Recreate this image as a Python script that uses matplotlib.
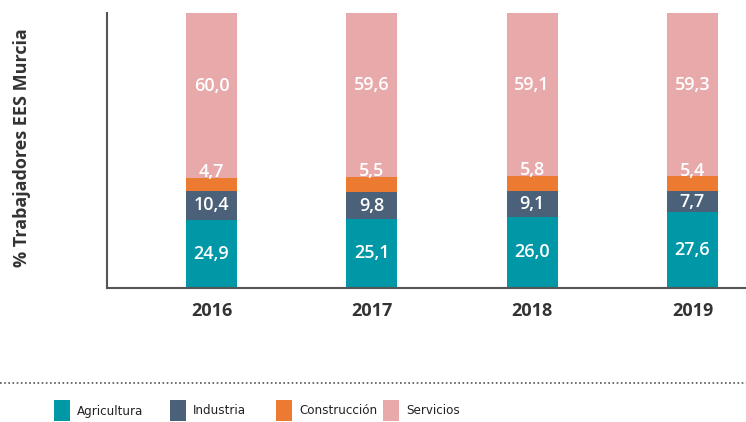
import matplotlib
matplotlib.use("Agg")
import matplotlib.pyplot as plt
from matplotlib.patches import Rectangle
from matplotlib.lines import Line2D

years = ["2016", "2017", "2018", "2019"]
agricultura = [24.9, 25.1, 26.0, 27.6]
industria = [10.4, 9.8, 9.1, 7.7]
construccion = [4.7, 5.5, 5.8, 5.4]
servicios = [60.0, 59.6, 59.1, 59.3]
series_names = ["Agricultura", "Industria", "Construcción", "Servicios"]
colors = ["#0097A7", "#4A6179", "#EC7B31", "#E8A9AA"]

FONT = ["Open Sans", "DejaVu Sans"]

fig = plt.figure(figsize=(7.46, 4.22), dpi=100)
ax = fig.add_axes([107/746, 1-288/422, 1-107/746, (288-13)/422])

x = list(range(len(years)))
width = 0.318
series = [agricultura, industria, construccion, servicios]
bottoms = [0.0]*len(years)
for si, (vals, col) in enumerate(zip(series, colors)):
    ax.bar(x, vals, width=width, bottom=bottoms, color=col, linewidth=0, zorder=2)
    for i, (v, b) in enumerate(zip(vals, bottoms)):
        lbl = f"{v:.1f}".replace(".", ",")
        if si == 2:
            pos, off = b+v, 4
        elif si == 3:
            pos, off = b+v/2, 7
        else:
            pos, off = b+v/2, 0
        ax.annotate(lbl, (x[i], pos), xytext=(0, off), textcoords="offset points",
                    ha="center", va="center", color="white", fontsize=13,
                    fontweight="semibold", family=FONT, zorder=3)
    bottoms = [b+v for b, v in zip(bottoms, vals)]

ax.set_xlim(-0.652, 3.334)
ax.set_ylim(0, 100)
ax.set_xticks(x)
ax.set_xticklabels(years, fontsize=13, fontweight="bold", color="#333333", family=FONT)
ax.tick_params(axis="x", length=0, pad=10)
ax.set_yticks([])
for s in ["top", "right"]:
    ax.spines[s].set_visible(False)
for s in ["left", "bottom"]:
    ax.spines[s].set_color("#555555")
    ax.spines[s].set_linewidth(1.5)

fig.text(22/746, 1-148/422, "% Trabajadores EES Murcia", rotation=90, ha="center", va="center",
         fontsize=13, fontweight="bold", color="#333333", family=FONT)

fig.add_artist(Line2D([0, 1], [1-383/422, 1-383/422], transform=fig.transFigure,
                      color="#555555", linestyle=(0, (1, 1.5)), linewidth=1.2))

patch_x = [54, 170, 276, 383]
for px, name, col in zip(patch_x, series_names, colors):
    fig.add_artist(Rectangle((px/746, 1-421/422), 16/746, 21/422, transform=fig.transFigure,
                             facecolor=col, edgecolor="none"))
    fig.text((px+23)/746, 1-411/422, name, ha="left", va="center", fontsize=9.5,
             color="#222222", family=["DejaVu Sans"], fontstretch="condensed")

fig.savefig("out.png", dpi=100)
